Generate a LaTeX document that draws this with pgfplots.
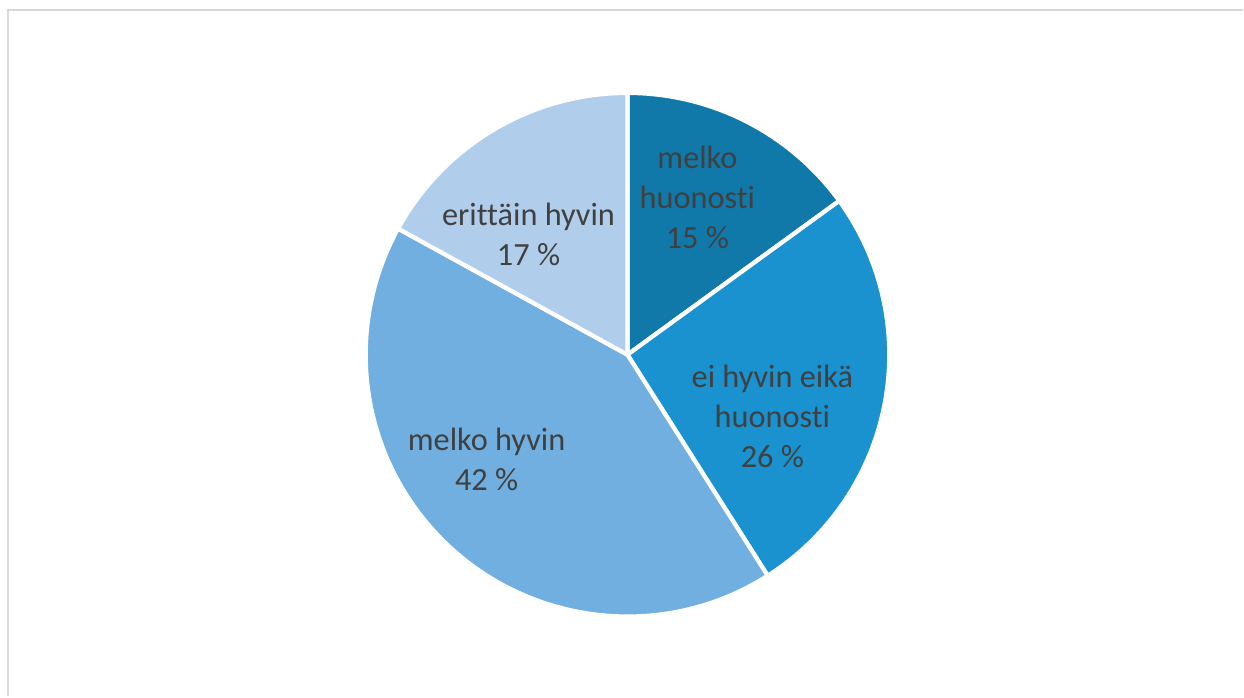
\documentclass[border=0pt]{standalone}
\usepackage{fontspec}
\setmainfont{Carlito}[Ligatures=NoCommon]
\usepackage{pgfplots}
\pgfplotsset{compat=1.18}
\definecolor{s1}{HTML}{1179AA}
\definecolor{s2}{HTML}{1A92CF}
\definecolor{s3}{HTML}{70AFDF}
\definecolor{s4}{HTML}{B0CEEB}
\definecolor{frame}{HTML}{D9D9D9}
\definecolor{txt}{HTML}{404040}
% shares in percent, clockwise from the top
\def\vA{15}\def\vB{26}\def\vC{42}\def\vD{17}
\def\R{2.62cm}
\begin{document}
\begin{tikzpicture}
\begin{axis}[
  scale only axis, width=12.44cm, height=6.97cm,
  xmin=0, xmax=1244, ymin=0, ymax=697,
  axis lines=none, clip=false,
]
\path (axis cs:0,0) rectangle (axis cs:1244,697);
\draw[frame, line width=0.6pt] (axis cs:8,0) -- (axis cs:8,687) -- (axis cs:1244,687);
\pgfmathsetmacro{\aA}{90}
\pgfmathsetmacro{\aB}{\aA-3.6*\vA}
\pgfmathsetmacro{\aC}{\aB-3.6*\vB}
\pgfmathsetmacro{\aD}{\aC-3.6*\vC}
\pgfmathsetmacro{\aE}{\aD-3.6*\vD}
\filldraw[fill=s1, draw=white, line width=1.2pt, line join=round] (axis cs:628,342) -- ++(\aA:\R) arc[start angle=\aA, end angle=\aB, radius=\R] -- cycle;
\filldraw[fill=s2, draw=white, line width=1.2pt, line join=round] (axis cs:628,342) -- ++(\aB:\R) arc[start angle=\aB, end angle=\aC, radius=\R] -- cycle;
\filldraw[fill=s3, draw=white, line width=1.2pt, line join=round] (axis cs:628,342) -- ++(\aC:\R) arc[start angle=\aC, end angle=\aD, radius=\R] -- cycle;
\filldraw[fill=s4, draw=white, line width=1.2pt, line join=round] (axis cs:628,342) -- ++(\aD:\R) arc[start angle=\aD, end angle=\aE, radius=\R] -- cycle;
\tikzset{lab/.style={text=txt, align=center, inner sep=0pt, font=\fontsize{9.2}{11.4}\selectfont}}
\node[lab] at (axis cs:698,499) {melko\\huonosti\\15 \%};
\node[lab] at (axis cs:773,280) {ei hyvin eikä\\huonosti\\26 \%};
\node[lab] at (axis cs:487,237) {melko hyvin\\42 \%};
\node[lab] at (axis cs:529,462) {erittäin hyvin\\17 \%};
\end{axis}
\end{tikzpicture}
\end{document}
